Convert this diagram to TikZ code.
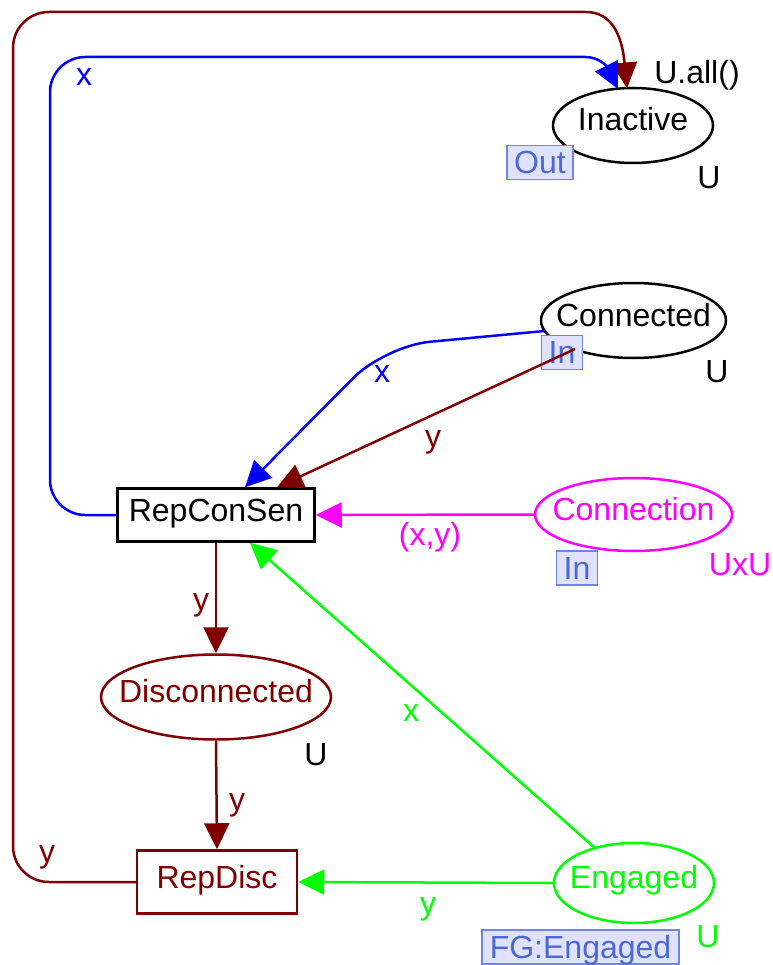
\documentclass[tikz,border=0pt]{standalone}
\usepackage{fontspec}
\setmainfont{Liberation Sans}
\usetikzlibrary{shapes.geometric,arrows.meta,calc}
\definecolor{dred}{RGB}{128,0,0}
\definecolor{pblue}{RGB}{0,0,255}
\definecolor{pmag}{RGB}{255,0,255}
\definecolor{pgreen}{RGB}{0,255,0}
\definecolor{tagfill}{RGB}{224,224,255}
\definecolor{tagline}{RGB}{110,135,230}
\definecolor{tagtext}{RGB}{75,105,210}
% place names take no width, so the ellipse size is set by minimum width/height
\newcommand{\pname}[1]{\makebox[0pt]{#1}}
\begin{document}
\begin{tikzpicture}[x=1pt,y=-1pt,
  every node/.style={font=\fontsize{32}{38}\selectfont, inner sep=0pt, text height=21pt, text depth=7pt},
  place/.style={ellipse, draw, line width=2.5pt, text height=19.5pt, text depth=8.5pt},
  trans/.style={rectangle, draw, line width=2.5pt, text height=20pt, text depth=8pt},
  tag/.style={rectangle, draw=tagline, fill=tagfill, text=tagtext, line width=1.5pt,
    inner xsep=7pt, inner ysep=3pt, text height=25pt, text depth=3pt},
  arc/.style={line width=2.5pt, -{Triangle[length=26pt,width=25pt]}}]
\useasboundingbox (0,0) rectangle (772,965);

% places
\node[place, minimum width=160pt, minimum height=75pt] (inactive) at (633,125.5) {\pname{Inactive}};
\node[place, minimum width=185pt, minimum height=75pt] (connected) at (633.5,320.5) {\pname{Connected}};
\node[place, draw=pmag, text=pmag, minimum width=197pt, minimum height=73pt] (connection) at (633.5,514.5) {\pname{Connection}};
\node[place, draw=dred, text=dred, minimum width=230pt, minimum height=85pt] (disc) at (216,697) {\pname{Disconnected}};
\node[place, draw=pgreen, text=pgreen, minimum width=160pt, minimum height=80pt] (engaged) at (634,883) {\pname{Engaged}};

% transitions
\node[trans, minimum width=197pt, minimum height=53pt] (rcs) at (216,515) {RepConSen};
\node[trans, draw=dred, text=dred, minimum width=160pt, minimum height=63pt] (repdisc) at (217,882) {RepDisc};

% port tags, colour sets and initial marking
\node[tag] (tagout) at (540,162.5) {Out};
\node[tag] (tagin1) at (562,352.5) {In};
\node[tag] (tagin2) at (577,568) {In};
\node[tag, minimum width=197pt] (tagfg) at (580.5,947) {FG:Engaged};
\node (init) at (697,77) {U.all()};
\node (csi) at (709,182) {U};
\node (csc) at (717,375) {U};
\node[text=pmag] (cscn) at (740,568) {UxU};
\node (csd) at (316,758) {U};
\node[text=pgreen] (cse) at (708,940) {U};

% arcs
\draw[arc, dred] (repdisc.west) -- (49,882)
  .. controls (29,882) and (13,866) .. (13,846) -- (13,48)
  .. controls (13,28) and (29,12) .. (49,12) -- (586,12)
  .. controls (612,12) and (622,36) .. ($(inactive)+(-6,-37)$);
\draw[arc, pblue] (rcs.west) -- (85,515)
  .. controls (66,515) and (50,499) .. (50,480) -- (50,92)
  .. controls (50,73) and (66,57) .. (85,57) -- (585,57)
  .. controls (600,57) and (607,67) .. ($(inactive)+(-15,-36.5)$);
\draw[arc, pblue, rounded corners=45pt] ($(connected)+(-89,10.5)$) -- (385,346) -- ($(rcs.north)+(29,0)$);
\draw[arc, dred] ($(connected)+(-58.5,28.5)$) -- ($(rcs.north)+(61,0)$);
\draw[arc, pmag] (connection.west) -- (rcs.east);
\draw[arc, pgreen] ($(engaged)+(-39,-35)$) -- ($(rcs.south)+(34,0)$);
\draw[arc, dred] (rcs.south) -- (disc.north);
\draw[arc, dred] (disc.south) -- (repdisc.north);
\draw[arc, pgreen] (engaged.west) -- (repdisc.east);

% arc inscriptions
\node[text=pblue] (lx1) at (84,79) {x};
\node[text=dred] (ly1) at (47,855) {y};
\node[text=pblue] (lx2) at (382,375) {x};
\node[text=dred] (ly2) at (433,440) {y};
\node[text=pmag] (lxy) at (430,538) {(x,y)};
\node[text=dred] (ly3) at (201,603) {y};
\node[text=pgreen] (lx3) at (411,714) {x};
\node[text=dred] (ly4) at (237,803) {y};
\node[text=pgreen] (ly5) at (428,907) {y};
\end{tikzpicture}
\end{document}
